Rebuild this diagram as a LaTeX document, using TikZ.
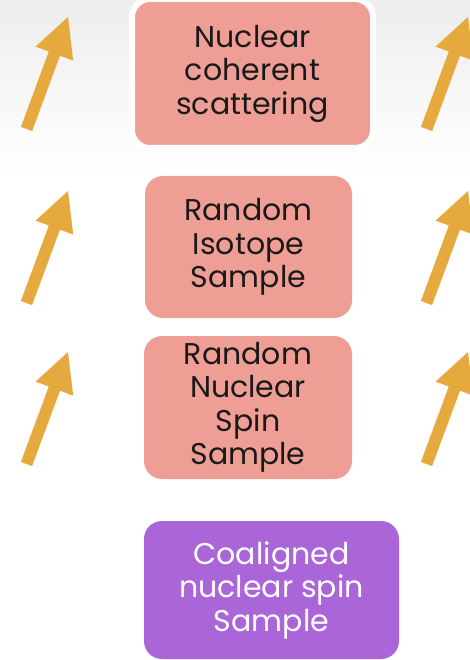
\documentclass[tikz,border=0pt]{standalone}
\usepackage{fontspec}
\setmainfont{Poppins}
\usepackage{xcolor}
\usepackage{tikz}
\usetikzlibrary{arrows.meta,shapes}
\definecolor{boxpink}{HTML}{EE9E95}
\definecolor{boxpurple}{HTML}{AA66D8}
\definecolor{spinorange}{HTML}{E6A93E}
\tikzset{
  stepbox/.style={rectangle,rounded corners=18pt,fill=boxpink,align=center,text=black!90,
    font=\fontsize{30}{33.5}\selectfont,inner sep=0pt},
  spinarrow/.style={fill=spinorange}
}
\begin{document}
\begin{tikzpicture}[x=1pt,y=-1pt]
\clip(0,0)rectangle(470,660);
\useasboundingbox(0,0)rectangle(470,660);
\shade[top color=black!7,bottom color=white](0,0)rectangle(470,175);
\node[stepbox,draw=white,line width=6pt,minimum width=241pt,minimum height=149pt](ncs)at(252.5,73.5){Nuclear\\coherent\\scattering};
\node[stepbox,minimum width=207pt,minimum height=142pt](ris)at(248.5,247){Random\\Isotope\\Sample};
\node[stepbox,minimum width=208pt,minimum height=143pt](rns)at(248,407.5){Random\\Nuclear\\Spin\\Sample};
\node[stepbox,fill=boxpurple,text=white,minimum width=255pt,minimum height=138pt](cns)at(271.5,590){Coaligned\\nuclear spin\\Sample};
\foreach \x in {26.5,426.5}
\foreach \y in {129,303,464}
\fill[spinarrow,shift={(\x,\y)}](-5.6,-2.1)--(22.3,-77.5)--(9.1,-82.4)--(41.5,-112)--(46.7,-68.4)--(33.5,-73.3)--(5.6,2.1)--cycle;
\end{tikzpicture}
\end{document}
